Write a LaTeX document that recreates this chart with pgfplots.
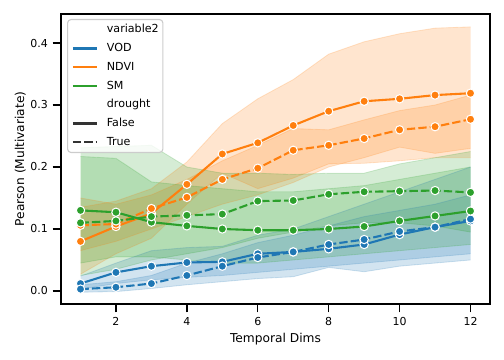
\documentclass[border=0pt]{standalone}
\usepackage{fontspec}
\setmainfont{DejaVu Sans}
\usepackage{pgfplots}
\usepackage{pgfplotstable}
\pgfplotsset{compat=1.18}
\usepgfplotslibrary{fillbetween}
\definecolor{cV}{HTML}{1F77B4}
\definecolor{cN}{HTML}{FF7F0E}
\definecolor{cS}{HTML}{2CA02C}
\definecolor{cK}{HTML}{333333}

\pgfplotstableread{
x vf vfl vfu vt vtl vtu
1 0.012 0.003 0.024 0.003 -0.002 0.010
2 0.030 0.012 0.045 0.006 -0.001 0.015
3 0.040 0.018 0.065 0.012 0.004 0.025
4 0.046 0.022 0.070 0.025 0.010 0.045
5 0.047 0.025 0.072 0.040 0.015 0.060
6 0.060 0.030 0.090 0.054 0.020 0.078
7 0.063 0.035 0.100 0.063 0.023 0.090
8 0.068 0.040 0.120 0.075 0.038 0.105
9 0.075 0.045 0.140 0.083 0.031 0.120
10 0.091 0.050 0.160 0.096 0.040 0.130
11 0.103 0.055 0.180 0.103 0.045 0.140
12 0.113 0.060 0.200 0.116 0.050 0.155
}\vod

\pgfplotstableread{
x nf nfl nfu nt ntl ntu
1 0.080 0.027 0.135 0.106 0.065 0.150
2 0.104 0.060 0.145 0.108 0.080 0.140
3 0.125 0.085 0.165 0.133 0.100 0.155
4 0.172 0.140 0.208 0.151 0.120 0.180
5 0.221 0.190 0.270 0.180 0.140 0.210
6 0.239 0.165 0.310 0.198 0.155 0.235
7 0.267 0.182 0.341 0.227 0.175 0.262
8 0.290 0.205 0.382 0.235 0.200 0.260
9 0.306 0.206 0.402 0.246 0.215 0.276
10 0.310 0.210 0.415 0.260 0.232 0.291
11 0.316 0.215 0.424 0.265 0.222 0.300
12 0.319 0.215 0.426 0.277 0.230 0.316
}\ndvi

\pgfplotstableread{
x sf sfl sfu st stl stu
1 0.130 0.045 0.217 0.110 0.025 0.231
2 0.127 0.055 0.214 0.113 0.035 0.233
3 0.111 0.055 0.176 0.120 0.050 0.235
4 0.105 0.050 0.170 0.122 0.060 0.200
5 0.100 0.045 0.165 0.124 0.070 0.190
6 0.098 0.045 0.160 0.145 0.085 0.190
7 0.098 0.050 0.160 0.146 0.095 0.188
8 0.100 0.055 0.165 0.156 0.105 0.190
9 0.104 0.060 0.170 0.160 0.110 0.190
10 0.113 0.065 0.180 0.161 0.110 0.205
11 0.121 0.070 0.190 0.162 0.105 0.215
12 0.129 0.075 0.200 0.159 0.095 0.225
}\sm

\newcommand{\band}[5]{%
  \addplot[name path=#5u, draw=#4, draw opacity=0.2, line width=0.6bp, forget plot] table[x=x,y=#3]{#1};
  \addplot[name path=#5l, draw=#4, draw opacity=0.2, line width=0.6bp, forget plot] table[x=x,y=#2]{#1};
  \addplot[fill=#4, fill opacity=0.2, draw=none, forget plot] fill between[of=#5u and #5l];
}

\tikzset{
  dsh/.style={dash pattern=on 6bp off 2.25bp},
  mk/.style={mark=*, mark size=3bp, mark options={fill=#1, draw=white, line width=0.75bp, solid}},
}

\begin{document}
\begin{tikzpicture}
\begin{axis}[
  scale only axis,
  width=308.88bp, height=208.8bp,
  xmin=0.45, xmax=12.55, ymin=-0.021, ymax=0.4468,
  axis line style={line width=1.25bp, black},
  tick align=outside, xtick pos=bottom, ytick pos=left,
  major tick length=6bp,
  every tick/.style={black, line width=1bp},
  xtick={2,4,6,8,10,12}, ytick={0,0.1,0.2,0.3,0.4},
  /pgf/number format/assume math mode=true,
  every tick label/.append style={font=\fontsize{7.9bp}{9bp}\selectfont},
  yticklabel style={/pgf/number format/fixed, /pgf/number format/fixed zerofill, /pgf/number format/precision=1},
  xlabel={Temporal Dims}, ylabel={Pearson (Multivariate)},
  label style={font=\fontsize{8.8bp}{10bp}\selectfont},
  xlabel style={at={([yshift=-27.4bp]axis description cs:0.5,0)}, anchor=base},
  ylabel style={at={([xshift=-26.6bp]axis description cs:0,0.5)}, anchor=base},
  legend image code/.code={\draw[#1] (0bp,0bp) -- (17.3bp,0bp);},
  legend cell align=left,
  legend style={
    at={([xshift=4.32bp,yshift=-3.6bp]axis description cs:0,1)}, anchor=north west,
    draw=black!20, line width=0.8bp, rounded corners=2.5bp, fill=white, fill opacity=0.8, text opacity=1,
    font=\fontsize{8bp}{9.5bp}\selectfont,
    inner xsep=3bp, inner ysep=3.5bp,
    row sep=5.8bp, column sep=6.5bp,
    nodes={inner sep=0pt, text height=6.1bp, text depth=1.6bp},
  },
]
\band{\vod}{vfl}{vfu}{cV}{a}
\band{\vod}{vtl}{vtu}{cV}{b}
\band{\ndvi}{nfl}{nfu}{cN}{c}
\band{\ndvi}{ntl}{ntu}{cN}{d}
\band{\sm}{sfl}{sfu}{cS}{e}
\band{\sm}{stl}{stu}{cS}{f}

\addplot[cV, line width=1.5bp, mk=cV, forget plot] table[x=x,y=vf]{\vod};
\addplot[cV, line width=1.5bp, dsh, mk=cV, forget plot] table[x=x,y=vt]{\vod};
\addplot[cN, line width=1.5bp, mk=cN, forget plot] table[x=x,y=nf]{\ndvi};
\addplot[cN, line width=1.5bp, dsh, mk=cN, forget plot] table[x=x,y=nt]{\ndvi};
\addplot[cS, line width=1.5bp, mk=cS, forget plot] table[x=x,y=sf]{\sm};
\addplot[cS, line width=1.5bp, dsh, mk=cS, forget plot] table[x=x,y=st]{\sm};

\addlegendimage{empty legend}\addlegendentry{variable2}
\addlegendimage{cV, line width=1.5bp}\addlegendentry{VOD}
\addlegendimage{cN, line width=1.5bp}\addlegendentry{NDVI}
\addlegendimage{cS, line width=1.5bp}\addlegendentry{SM}
\addlegendimage{empty legend}\addlegendentry{drought}
\addlegendimage{cK, line width=1.5bp}\addlegendentry{False}
\addlegendimage{cK, line width=1.5bp, dsh}\addlegendentry{True}
\end{axis}
\path ([xshift=-43.92bp,yshift=-40.32bp]current axis.south west) rectangle ([xshift=10.08bp,yshift=10.08bp]current axis.north east);
\end{tikzpicture}
\end{document}
